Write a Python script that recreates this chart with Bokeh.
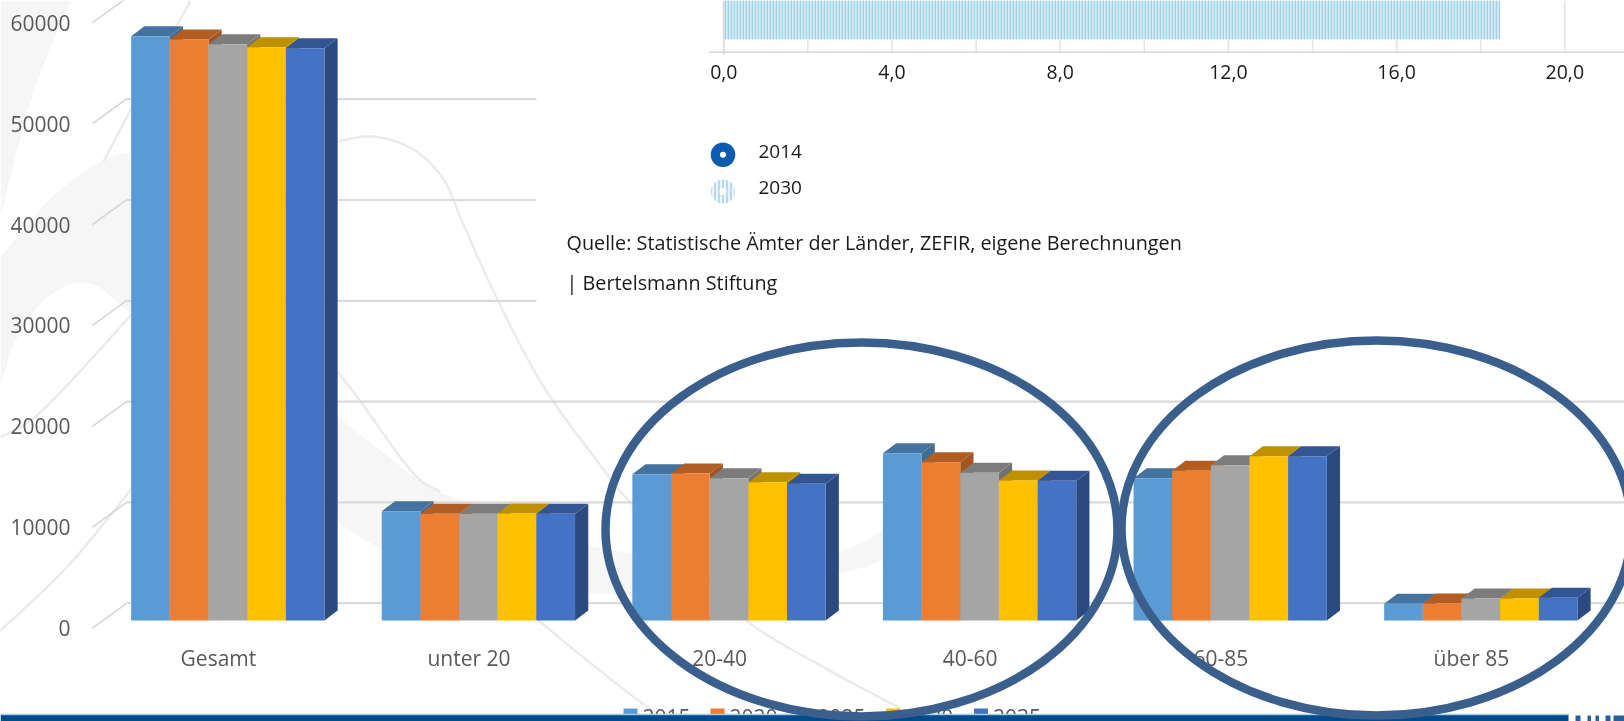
import numpy as np
from bokeh.plotting import figure
from bokeh.models import Range1d
from bokeh.embed import file_html
from bokeh.resources import INLINE
from bokeh.core.properties import value

# ---- data ----
categories = ["Gesamt", "unter 20", "20-40", "40-60", "60-85", "über 85"]
years = ["2015", "2020", "2025", "2030", "2035"]
v2015 = [57960, 10840, 14510, 16600, 14120, 1650]
v2020 = [57640, 10580, 14580, 15700, 14850, 1690]
v2025 = [57170, 10580, 14120, 14650, 15410, 2180]
v2030 = [56880, 10620, 13720, 13890, 16300, 2180]
v2035 = [56780, 10580, 13560, 13860, 16300, 2250]
series = [v2015, v2020, v2025, v2030, v2035]
y_ticks = [0, 10000, 20000, 30000, 40000, 50000, 60000]
inner_ticks = [0, 4, 8, 12, 16, 20]
inner_minor = [0, 2, 4, 6, 8, 10, 12, 14, 16, 18, 20]
inner_value_2030 = 18.46
inner_legend = ["2014", "2030"]
source_lines = ["Quelle: Statistische Ämter der Länder, ZEFIR, eigene Berechnungen", "| Bertelsmann Stiftung"]

# ---- styles ----
front = ["#5b9bd5", "#ed7d31", "#a5a5a5", "#ffc000", "#4472c4"]
top_c = ["#44739f", "#b25e23", "#7c7c7c", "#bf9000", "#335593"]
side_c = ["#3f6c95", "#a4551f", "#727272", "#b08500", "#2b4a80"]
W, H = 1624, 721
FONT = value("Open Sans")
GROUP_PX = 250.6
BAR_PX = 38.66
CENTER0_PX = 227.3
PX_PER_10K = 100.8
BASE_PX = 620.0
WALL0_PX = 602.7
AX0_PX = 627.6
INNER0_PX = 723.3
INNER_UNIT = 42.05

bw = BAR_PX / GROUP_PX
dx = 13.2 / GROUP_PX
dv = 10 / PX_PER_10K * 10000


def smooth(xs, ys, n=10):
    """Catmull-Rom curve through the watermark's outline points."""
    pts = np.column_stack([xs, ys]).astype(float)
    pts = np.vstack([pts[0], pts, pts[-1]])
    out = []
    for i in range(1, len(pts) - 2):
        a, b, c, d = pts[i - 1], pts[i], pts[i + 1], pts[i + 2]
        for t in np.linspace(0, 1, n, endpoint=False):
            out.append(0.5 * (2 * b + (c - a) * t + (2 * a - 5 * b + 4 * c - d) * t ** 2
                              + (3 * b - a - 3 * c + d) * t ** 3))
    out.append(pts[-2])
    out = np.array(out)
    return out[:, 0].tolist(), out[:, 1].tolist()


p = figure(width=W, height=H, output_backend="svg", toolbar_location=None,
           x_axis_location=None, y_axis_location=None, min_border=0,
           x_range=Range1d(-CENTER0_PX / GROUP_PX, (W - CENTER0_PX) / GROUP_PX),
           y_range=Range1d((BASE_PX - H) / PX_PER_10K * 10000, BASE_PX / PX_PER_10K * 10000))
p.grid.visible = False
p.outline_line_color = None
p.background_fill_color = "white"
p.styles = {"position": "fixed", "left": "0", "top": "0"}
p.extra_x_ranges = {"px": Range1d(0, W),
                    "inner": Range1d(-INNER0_PX / INNER_UNIT, (W - INNER0_PX) / INNER_UNIT)}
p.extra_y_ranges = {"px": Range1d(H, 0),
                    "wall": Range1d((WALL0_PX - H) / PX_PER_10K * 10000, WALL0_PX / PX_PER_10K * 10000),
                    "tick": Range1d((AX0_PX - H) / 100.9 * 10000, AX0_PX / 100.9 * 10000)}
PX = dict(x_range_name="px", y_range_name="px")

# ---- watermark behind the chart ----
blob_outlines = [
    ([70, 33, 0], [0, 92, 216], [(0, 216), (0, 0)]),
    ([0, 50, 100, 132, 190], [257, 198, 161, 152, 150], [(190, 340), (132, 313), (90, 283), (50, 294), (17, 336), (0, 386)]),
    ([337, 380, 430, 497, 537, 603, 700, 829, 887], [416, 450, 487, 514, 536, 548, 560, 553, 527],
     [(900, 540), (880, 560), (829, 575), (700, 600), (603, 593), (563, 593), (463, 581), (380, 548), (337, 521)]),
]
bx, by = [], []
for xs, ys, rest in blob_outlines:
    sx, sy = smooth(xs, ys)
    if len(rest) > 2:
        rx, ry = smooth([r[0] for r in rest], [r[1] for r in rest])
    else:
        rx, ry = [r[0] for r in rest], [r[1] for r in rest]
    bx.append(sx + rx)
    by.append(sy + ry)
p.patches(bx, by, fill_color="#f6f6f6", line_color=None, **PX)
curves = [
    ([337, 373, 413, 443, 463, 497, 543, 597, 630, 700, 747, 820, 900],
     [141, 136, 149, 179, 224, 299, 386, 461, 502, 570, 621, 665, 708]),
    ([337, 363, 397, 420, 440], [371, 405, 453, 480, 491]),
    ([537, 583, 630, 655], [619, 657, 694, 712]),
    ([0, 43, 132], [437, 409, 313]),
    ([0, 67, 132], [630, 566, 487]),
    ([103, 132, 190], [161, 106, 0]),
]
cx, cy = zip(*[smooth(c[0], c[1]) for c in curves])
p.multi_line(list(cx), list(cy), line_color="#ebebeb", line_width=2.5, **PX)

# ---- back wall and its ticks ----
grid_end = {30000: 536, 40000: 536, 50000: 536}
for t in y_ticks:
    if t < 60000:
        p.segment(x0=[126], x1=[grid_end.get(t, W)], y0=[t], y1=[t], line_color="#dadada", line_width=2.2,
                  x_range_name="px", y_range_name="wall")
p.segment(x0=[92] * len(y_ticks), x1=[126] * len(y_ticks), y0=y_ticks,
          y1=[t + 24.7 / PX_PER_10K * 10000 for t in y_ticks], line_color="#d6d6d6", line_width=1.6,
          x_range_name="px", y_range_name="tick")
p.text(x=[70] * len(y_ticks), y=y_ticks, text=[str(t) for t in y_ticks], text_align="right",
       text_baseline="middle", text_font=FONT, text_font_size="21px", text_color="#595959",
       x_range_name="px", y_range_name="tick")

# ---- embedded small chart ----
p.hbar(y=[-100], left=[0], right=[inner_value_2030], height=[2 * 100 + 2 * 38.7], fill_color="#d6ebf4",
       line_color=None, hatch_pattern="vertical_line", hatch_color="#a2d0e4", hatch_scale=3, hatch_weight=1.6,
       x_range_name="inner", y_range_name="px")
p.segment(x0=inner_minor, x1=inner_minor, y0=[39 if m < 20 else 0 for m in inner_minor],
          y1=[52] * len(inner_minor), line_color="#e4e4e4", line_width=1.6,
          x_range_name="inner", y_range_name="px")
p.segment(x0=[inner_minor[0]], x1=[inner_minor[0]], y0=[0], y1=[54], line_color="#dcdcdc", line_width=2,
          x_range_name="inner", y_range_name="px")
p.segment(x0=[708], x1=[W], y0=[51.7], y1=[51.7], line_color="#d6d6d6", line_width=1.6, **PX)
p.text(x=inner_ticks, y=[71.5] * len(inner_ticks), text=[f"{t:.1f}".replace(".", ",") for t in inner_ticks],
       text_align="center", text_baseline="middle", text_font=FONT, text_font_size="19.5px",
       text_color="#1a1a1a", x_range_name="inner", y_range_name="px")
p.circle(x=[722.5], y=[154.3], radius=12.3, fill_color="#0b5cb0", line_color=None, **PX)
p.circle(x=[722.5], y=[154.3], radius=3, fill_color="white", line_color=None, **PX)
p.circle(x=[722.5], y=[191], radius=12, fill_color="#eaf5f9", line_color=None, hatch_pattern="vertical_line",
         hatch_color="#a8d4e6", hatch_scale=4, hatch_weight=1.6, **PX)
p.circle(x=[722.5], y=[191], radius=3.5, fill_color="white", line_color=None, **PX)
p.text(x=[758, 758], y=[151, 187], text=inner_legend, text_baseline="middle", text_font=FONT,
       text_font_size="19px", text_color="#1a1a1a", **PX)
p.text(x=[566, 566], y=[242, 281.5], text=source_lines, text_baseline="middle", text_font=FONT,
       text_font_size="19.8px", text_color="#1a1a1a", **PX)

# ---- 3-D columns ----
for j, vals in enumerate(series):
    lefts = [i + (j - 2.5) * bw for i in range(len(vals))]
    rights = [l + bw for l in lefts]
    p.patches([[r, r + dx, r + dx, r] for r in rights],
              [[0, dv, v + dv, v] for v in vals], fill_color=side_c[j], line_color=None)
    p.patches([[l, l + dx, r + dx, r] for l, r in zip(lefts, rights)],
              [[v, v + dv, v + dv, v] for v in vals], fill_color=top_c[j], line_color=None)
    p.quad(left=lefts, right=rights, bottom=0, top=vals, fill_color=front[j], line_color=None)

p.text(x=[i - 9.4 / GROUP_PX for i in range(len(categories))], y=[-3750] * len(categories), text=categories,
       text_align="center", text_baseline="middle", text_font=FONT, text_font_size="21px", text_color="#595959")

# ---- legend (its lower part disappears behind the footer band) ----
lg_x = [623, 710, 798, 885.7, 973.5]
p.quad(left=lg_x, right=[x + 14 for x in lg_x], top=[708] * 5, bottom=[722] * 5, fill_color=front, line_color=None, **PX)
p.text(x=[x + 19 for x in lg_x], y=[716] * 5, text=years, text_baseline="middle", text_font=FONT,
       text_font_size="21px", text_color="#595959", **PX)

# ---- footer band ----
p.quad(left=[0], right=[1568], top=[714], bottom=[722], fill_color="#004b8d", line_color=None, **PX)
p.segment(x0=[0], x1=[1568], y0=[714], y1=[714], line_color="#a8c9dd", line_width=1.4, **PX)
logo_x = [1575, 1587, 1595, 1605, 1613]
logo_w = [5, 3.5, 3.5, 5, 11]
p.quad(left=logo_x, right=[x + w for x, w in zip(logo_x, logo_w)], top=[715] * 5, bottom=[722] * 5,
       fill_color="#2a5f99", line_color=None, **PX)

# ---- highlight ellipses ----
p.ellipse(x=[861, 1376], y=[529, 527.5], width=[512, 510], height=[374, 375], fill_color=None,
          line_color="#3a5f8c", line_width=8.5, **PX)

open("out.html", "w").write(file_html(p, INLINE))
